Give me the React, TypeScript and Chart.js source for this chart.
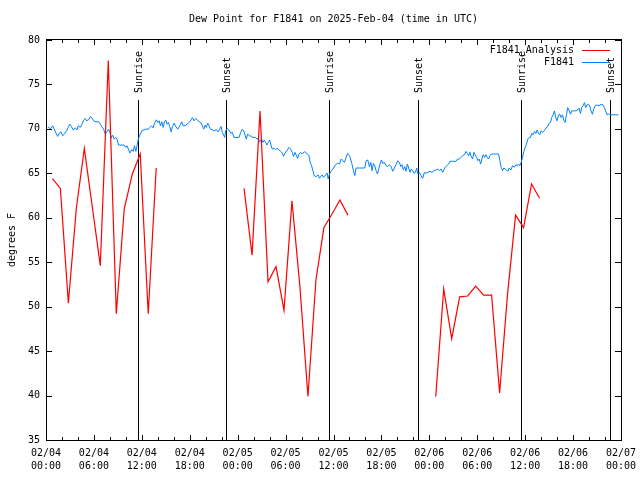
import React, { useEffect, useRef } from 'react';
import { Chart, registerables } from 'chart.js';

Chart.register(...registerables);

const CHART_TITLE = 'Dew Point for F1841 on 2025-Feb-04 (time in UTC)';
const Y_TITLE = 'degrees F';
const SERIES_NAMES = ['F1841_Analysis', 'F1841'];
const SERIES_COLORS = ['#ff0000', '#0080ff'];

const tickDays = ['02/04', '02/04', '02/04', '02/04', '02/05', '02/05', '02/05', '02/05', '02/06', '02/06', '02/06', '02/06', '02/07'];
const tickTimes = ['00:00', '06:00', '12:00', '18:00', '00:00', '06:00', '12:00', '18:00', '00:00', '06:00', '12:00', '18:00', '00:00'];

// hours since 02/04 00:00 UTC
const sunLabels = ['Sunrise', 'Sunset', 'Sunrise', 'Sunset', 'Sunrise', 'Sunset'];
const sunHours = [11.55, 22.57, 35.46, 46.6, 59.49, 70.63];
const sunLineTop = 73.26;

// analysis (hourly, with gaps)
const analysisSeries: [number, number | null][] = [
  [0.8, 64.4], [1.8, 63.3], [2.8, 50.4], [3.8, 61.1], [4.8, 67.8], [5.8, 61.2], [6.8, 54.6],
  [7.8, 77.7], [8.8, 49.2], [9.8, 61.0], [10.8, 64.9], [11.8, 67.2], [12.8, 49.2], [13.8, 65.6],
  [19.3, null],
  [24.8, 63.3], [25.8, 55.8], [26.8, 72.0], [27.8, 52.8], [28.8, 54.5], [29.8, 49.6], [30.8, 61.9],
  [31.8, 52.2], [32.8, 39.9], [33.8, 53.0], [34.8, 58.9], [35.8, 60.4], [36.8, 62.0], [37.8, 60.3],
  [43.3, null],
  [48.8, 39.9], [49.8, 52.0], [50.8, 46.4], [51.8, 51.1], [52.8, 51.2], [53.8, 52.3], [54.8, 51.3],
  [55.8, 51.3], [56.8, 40.3], [57.8, 51.5], [58.8, 60.3], [59.8, 58.9], [60.8, 63.8], [61.8, 62.2],
];

// station observations
const obsSeries: [number, number][] = [
  [0.21, 70.27], [0.42, 70.09], [0.63, 70.05], [0.83, 70.35], [1.04, 69.97], [1.25, 69.52], [1.46, 69.15], [1.67, 69.52],
  [1.88, 69.67], [2.08, 69.23], [2.29, 69.41], [2.58, 69.79], [2.83, 70.27], [3.0, 70.53], [3.17, 70.27], [3.42, 69.86],
  [3.67, 70.12], [3.88, 69.9], [4.04, 70.35], [4.29, 70.16], [4.5, 70.53], [4.75, 71.02], [4.92, 71.17], [5.08, 70.91],
  [5.33, 71.02], [5.58, 71.39], [5.79, 71.17], [6.04, 70.83], [6.25, 70.8], [6.58, 70.8], [6.79, 70.53], [7.0, 70.23],
  [7.21, 69.97], [7.42, 69.41], [7.58, 69.6], [7.83, 69.97], [8.0, 69.6], [8.17, 68.96], [8.33, 69.3], [8.54, 68.85],
  [8.75, 69.04], [8.92, 68.78], [9.08, 68.18], [9.38, 68.18], [9.79, 68.18], [10.0, 67.92], [10.13, 68.1], [10.33, 67.73],
  [10.5, 67.28], [10.75, 67.66], [10.92, 67.47], [11.08, 68.1], [11.25, 67.47], [11.42, 68.18], [11.58, 68.93], [11.75, 69.3],
  [12.0, 69.79], [12.5, 69.97], [12.83, 69.97], [13.0, 70.16], [13.21, 70.35], [13.42, 70.12], [13.58, 70.65], [13.83, 71.02],
  [14.0, 70.72], [14.17, 70.91], [14.33, 70.35], [14.5, 70.8], [14.67, 70.16], [14.83, 70.8], [15.0, 70.98], [15.17, 70.53],
  [15.33, 70.72], [15.5, 70.27], [15.67, 69.67], [15.83, 70.27], [16.04, 70.65], [16.25, 70.27], [16.5, 69.97], [16.75, 70.35],
  [17.0, 70.8], [17.17, 70.35], [17.42, 70.35], [17.67, 70.53], [17.92, 70.72], [18.17, 71.02], [18.33, 71.28], [18.54, 70.91],
  [18.75, 71.17], [18.96, 71.02], [19.17, 70.8], [19.38, 70.72], [19.58, 70.35], [19.75, 69.97], [19.92, 70.42], [20.08, 70.16],
  [20.25, 70.65], [20.42, 70.35], [20.58, 69.97], [20.83, 69.9], [21.08, 69.79], [21.33, 69.9], [21.54, 69.67], [21.75, 69.97],
  [21.92, 70.27], [22.08, 69.6], [22.25, 69.3], [22.38, 69.04], [22.5, 69.79], [22.71, 70.05], [22.92, 69.86], [23.13, 69.52],
  [23.33, 69.6], [23.54, 69.04], [23.75, 69.04], [24.17, 69.04], [24.38, 69.6], [24.58, 69.97], [24.75, 69.79], [24.92, 69.3],
  [25.08, 68.85], [25.25, 69.41], [25.5, 69.23], [25.75, 69.15], [25.92, 69.04], [26.25, 69.04], [26.42, 68.85], [26.58, 68.93],
  [26.75, 68.55], [27.0, 68.85], [27.17, 68.48], [27.33, 68.74], [27.5, 68.48], [27.67, 68.18], [27.83, 68.48], [28.0, 68.74],
  [28.17, 68.18], [28.33, 67.73], [28.58, 67.81], [28.75, 67.66], [28.92, 67.81], [29.17, 67.66], [29.42, 67.43], [29.58, 67.28],
  [29.75, 66.91], [29.92, 67.28], [30.17, 67.54], [30.42, 67.92], [30.63, 67.73], [30.83, 67.36], [31.0, 66.91], [31.17, 67.36],
  [31.33, 67.06], [31.5, 66.68], [31.67, 67.17], [31.88, 67.36], [32.08, 67.17], [32.33, 67.43], [32.5, 67.36], [32.75, 67.17],
  [32.92, 66.98], [33.08, 66.24], [33.25, 65.86], [33.42, 65.3], [33.58, 64.74], [33.83, 64.63], [34.08, 64.82], [34.25, 64.44],
  [34.42, 64.67], [34.58, 64.82], [34.75, 64.55], [35.0, 64.82], [35.21, 65.04], [35.33, 64.37],
  [35.5, 64.93], [35.75, 65.3], [36.0, 65.6], [36.25, 65.97], [36.5, 66.12], [36.75, 66.05], [36.96, 66.61], [37.17, 66.42],
  [37.38, 66.24], [37.58, 66.8], [37.75, 67.25], [37.92, 67.1], [38.08, 66.8], [38.29, 66.12], [38.5, 65.3], [38.67, 64.74],
  [38.83, 65.6], [39.25, 65.6], [39.67, 65.6], [39.92, 65.6], [40.08, 66.42], [40.29, 66.5], [40.5, 65.75], [40.67, 66.24],
  [40.83, 65.3], [41.0, 66.12], [41.17, 65.86], [41.33, 65.3], [41.5, 64.93], [41.67, 65.49], [41.83, 66.05], [42.0, 66.5],
  [42.17, 66.12], [42.38, 66.24], [42.58, 65.86], [42.79, 65.75], [43.0, 65.97], [43.21, 65.75], [43.42, 65.23], [43.63, 65.6],
  [43.83, 65.97], [44.04, 66.42], [44.25, 66.24], [44.42, 65.75], [44.58, 65.97], [44.75, 65.38], [44.92, 65.75], [45.08, 65.23],
  [45.25, 66.05], [45.42, 65.6], [45.58, 65.11], [45.75, 65.49], [45.92, 65.3], [46.08, 65.0], [46.25, 65.11], [46.42, 65.6],
  [46.54, 64.93], [46.75, 65.11], [46.96, 64.74], [47.17, 64.44], [47.38, 65.11], [47.58, 65.0], [47.83, 65.11], [48.08, 65.23],
  [48.33, 65.11], [48.58, 65.3], [48.83, 65.38], [49.04, 65.49], [49.25, 65.3], [49.46, 65.49], [49.67, 65.11], [49.92, 65.6],
  [50.17, 65.86], [50.42, 66.05], [50.58, 66.35], [50.83, 66.35], [51.33, 66.35], [51.54, 66.61], [51.75, 66.61], [52.0, 66.8],
  [52.17, 66.98], [52.42, 67.1], [52.58, 67.47], [52.75, 67.25], [52.92, 66.98], [53.08, 67.36], [53.25, 66.87], [53.42, 66.61],
  [53.58, 67.36], [53.75, 67.1], [53.92, 66.8], [54.08, 66.42], [54.25, 66.61], [54.42, 66.05], [54.58, 66.61], [54.75, 67.1],
  [54.92, 66.8], [55.08, 67.1], [55.25, 66.8], [55.42, 66.61], [55.58, 66.98], [55.75, 67.17], [56.0, 67.17], [56.33, 67.17],
  [56.67, 67.17], [56.83, 66.42], [57.0, 65.68], [57.17, 65.3], [57.33, 65.6], [57.5, 65.49], [57.67, 65.38], [57.83, 65.23],
  [58.0, 65.6], [58.21, 65.38], [58.42, 65.86], [58.63, 65.68], [58.83, 65.97], [59.04, 65.86], [59.17, 66.05], [59.33, 65.86],
  [59.5, 66.24], [59.67, 66.8], [59.83, 67.47], [60.0, 67.92], [60.17, 68.29], [60.33, 68.85], [60.5, 69.04], [60.67, 69.04],
  [60.83, 69.49], [61.0, 69.34], [61.17, 69.71], [61.33, 69.49], [61.5, 69.86], [61.67, 69.49], [61.83, 69.34], [62.0, 69.79],
  [62.17, 69.6], [62.38, 69.79], [62.58, 70.08], [62.79, 70.23], [63.0, 70.61], [63.17, 70.72], [63.33, 71.28], [63.5, 71.58],
  [63.67, 72.03], [63.83, 71.28], [64.0, 70.91], [64.17, 71.58], [64.33, 71.65], [64.5, 71.28], [64.67, 71.58], [64.83, 70.98],
  [65.0, 70.72], [65.17, 71.58], [65.33, 72.4], [65.5, 72.1], [65.67, 71.65], [65.83, 72.03], [66.08, 72.03], [66.33, 72.03],
  [66.54, 72.1], [66.75, 72.33], [66.92, 71.73], [67.08, 72.4], [67.25, 72.59], [67.42, 72.96], [67.58, 72.4], [67.75, 72.7],
  [67.92, 72.78], [68.08, 72.59], [68.25, 72.03], [68.42, 71.65], [68.58, 72.21], [68.75, 72.59], [69.0, 72.7], [69.25, 72.59],
  [69.5, 72.78], [69.75, 72.7], [69.92, 72.4], [70.08, 72.03], [70.25, 71.58], [70.42, 71.73], [70.58, 71.58], [70.75, 71.58],
  [71.67, 71.58],
];

const X_MIN = 0;
const X_MAX = 72;
const X_MAJOR = 6;
const X_MINOR = 2;
const Y_MIN = 35;
const Y_MAX = 80;
const Y_STEP = 5;

const FONT_FAMILY = '"DejaVu Sans Mono", "Liberation Mono", monospace';
const FONT = `10px ${FONT_FAMILY}`;

const decorPlugin = {
  id: 'decor',
  beforeDatasetsDraw(chart: any) {
    const { ctx, chartArea, scales } = chart;
    const x = scales.x;
    const y = scales.y;
    ctx.save();
    ctx.strokeStyle = '#000';
    ctx.lineWidth = 1;
    const top = y.getPixelForValue(sunLineTop);
    sunHours.forEach((h) => {
      const px = Math.round(x.getPixelForValue(h)) + 0.5;
      ctx.beginPath();
      ctx.moveTo(px, top);
      ctx.lineTo(px, chartArea.bottom);
      ctx.stroke();
    });
    ctx.restore();
  },
  afterDraw(chart: any) {
    const { ctx, chartArea, scales } = chart;
    const x = scales.x;
    const y = scales.y;
    const L = chartArea.left;
    const R = chartArea.right;
    const T = chartArea.top;
    const B = chartArea.bottom;
    ctx.save();
    ctx.strokeStyle = '#000';
    ctx.lineWidth = 1;
    // border box
    ctx.strokeRect(Math.round(L) + 0.5, Math.round(T) - 0.5, Math.round(R - L), Math.round(B - T) + 1);
    // x ticks (inward, mirrored on top)
    ctx.beginPath();
    for (let h = X_MIN; h <= X_MAX; h += X_MINOR) {
      const px = Math.round(x.getPixelForValue(h)) + 0.5;
      const len = h % X_MAJOR === 0 ? 5 : 3;
      ctx.moveTo(px, B);
      ctx.lineTo(px, B - len);
      ctx.moveTo(px, T);
      ctx.lineTo(px, T + len);
    }
    // y ticks (inward, mirrored on right)
    for (let v = Y_MIN; v <= Y_MAX; v += Y_STEP) {
      const py = Math.round(y.getPixelForValue(v)) + 0.5;
      ctx.moveTo(L, py);
      ctx.lineTo(L + 6, py);
      ctx.moveTo(R, py);
      ctx.lineTo(R - 6, py);
    }
    ctx.stroke();

    ctx.fillStyle = '#000';
    ctx.font = FONT;
    // title
    ctx.textAlign = 'center';
    ctx.textBaseline = 'middle';
    ctx.fillText(CHART_TITLE, (L + R) / 2, 19);
    // y title
    ctx.save();
    ctx.translate(12, (T + B) / 2);
    ctx.rotate(-Math.PI / 2);
    ctx.fillText(Y_TITLE, 0, 0);
    ctx.restore();
    // sunrise/sunset labels
    sunHours.forEach((h, i) => {
      const px = Math.round(x.getPixelForValue(h)) + 1.5;
      ctx.save();
      ctx.translate(px, 93);
      ctx.rotate(-Math.PI / 2);
      ctx.textAlign = 'left';
      ctx.textBaseline = 'middle';
      ctx.fillText(sunLabels[i], 0, 0);
      ctx.restore();
    });
    // legend
    const rows = [50, 62];
    chart.data.datasets.forEach((ds: any, i: number) => {
      ctx.textAlign = 'right';
      ctx.textBaseline = 'middle';
      ctx.fillStyle = '#000';
      ctx.fillText(ds.label, 574, rows[i]);
      ctx.strokeStyle = ds.borderColor;
      ctx.beginPath();
      ctx.moveTo(582, rows[i] + 0.5);
      ctx.lineTo(610, rows[i] + 0.5);
      ctx.stroke();
    });
    ctx.restore();
  },
};

export default function App() {
  const canvasRef = useRef<HTMLCanvasElement | null>(null);

  useEffect(() => {
    if (!canvasRef.current) return;
    const chart = new Chart(canvasRef.current, {
      type: 'line',
      data: {
        datasets: [
          {
            label: SERIES_NAMES[0],
            data: analysisSeries.map(([h, v]) => ({ x: h, y: v })),
            borderColor: SERIES_COLORS[0],
            borderWidth: 1.2,
            pointRadius: 0,
            tension: 0,
            spanGaps: false,
            fill: false,
          },
          {
            label: SERIES_NAMES[1],
            data: obsSeries.map(([h, v]) => ({ x: h, y: v })),
            borderColor: SERIES_COLORS[1],
            borderWidth: 1,
            pointRadius: 0,
            tension: 0,
            fill: false,
          },
        ],
      },
      options: {
        animation: false,
        responsive: false,
        devicePixelRatio: 1,
        layout: { padding: { top: 40, right: 19, left: 0, bottom: 0 } },
        plugins: {
          legend: { display: false },
          title: { display: false },
          tooltip: { enabled: false },
        },
        scales: {
          x: {
            type: 'linear',
            min: X_MIN,
            max: X_MAX,
            grid: { display: false, drawTicks: false },
            border: { display: false },
            ticks: {
              stepSize: X_MAJOR,
              autoSkip: false,
              maxRotation: 0,
              padding: 7,
              color: '#000',
              font: { family: FONT_FAMILY, size: 10, lineHeight: 1.3 },
              callback: (value: any) => {
                const i = Math.round(Number(value) / X_MAJOR);
                return [tickDays[i], tickTimes[i]];
              },
            },
            afterFit: (s: any) => {
              s.height = 40;
              s.paddingLeft = 0;
              s.paddingRight = 0;
            },
          },
          y: {
            min: Y_MIN,
            max: Y_MAX,
            grid: { display: false, drawTicks: false },
            border: { display: false },
            ticks: {
              stepSize: Y_STEP,
              padding: 6,
              color: '#000',
              font: { family: FONT_FAMILY, size: 10 },
            },
            afterFit: (s: any) => {
              s.width = 46;
              s.paddingTop = 0;
              s.paddingBottom = 0;
            },
          },
        },
      },
      plugins: [decorPlugin],
    } as any);
    return () => chart.destroy();
  }, []);

  return (
    <div style={{ position: 'fixed', left: 0, top: 0, width: 640, height: 480, background: '#fff' }}>
      <canvas ref={canvasRef} width={640} height={480} style={{ display: 'block' }} />
    </div>
  );
}
